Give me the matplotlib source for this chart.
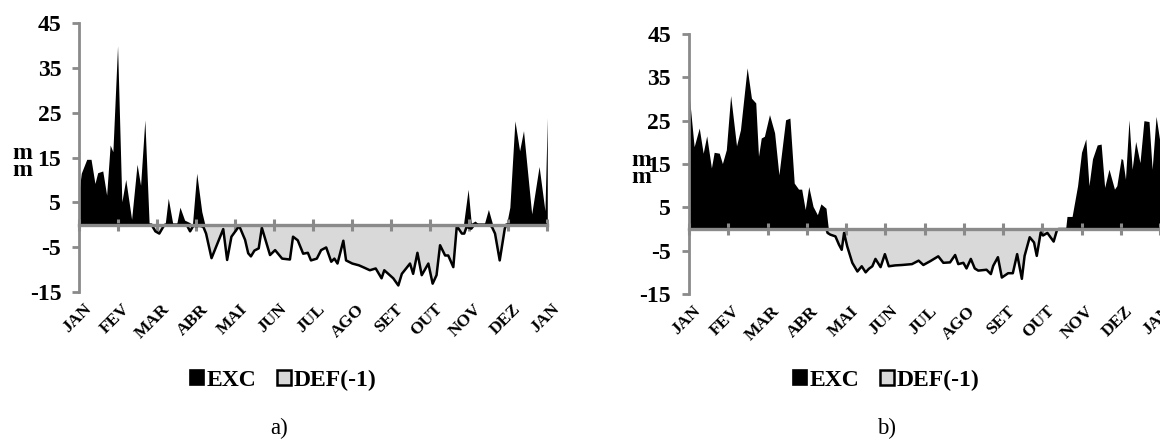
import matplotlib
matplotlib.use('Agg')
import matplotlib.pyplot as plt
import matplotlib.transforms as mtransforms
from matplotlib.patches import Patch

plt.rcParams['font.family'] = ['Liberation Serif', 'DejaVu Serif']

months = ['JAN', 'FEV', 'MAR', 'ABR', 'MAI', 'JUN', 'JUL',
          'AGO', 'SET', 'OUT', 'NOV', 'DEZ', 'JAN']
yticks = [-15, -5, 5, 15, 25, 35, 45]

# x is in months since the first JAN (0 .. 12)
# a) excess
exc_a_x = [0, 0.05, 0.19, 0.3, 0.4, 0.47, 0.6, 0.7, 0.79, 0.86, 0.98, 1.09,
           1.19, 1.34, 1.48, 1.57, 1.68, 1.79, 1.85, 2.2, 2.28, 2.4, 2.5,
           2.58, 2.7, 2.82, 2.9, 3.01, 3.14, 3.22, 9.85, 9.97, 10.05, 10.15,
           10.25, 10.38, 10.49, 10.6, 10.96, 11.04, 11.17, 11.29, 11.39,
           11.6, 11.79, 11.94, 12.0]
exc_a = [8, 11.5, 14.6, 14.6, 9.2, 11.6, 12, 6.6, 17.8, 16.3, 40, 5.1,
         10.1, 1.2, 13.5, 8.8, 23.4, 0.2, 0, 0, 5.9, 0, 0.3,
         3.9, 1, 0.5, 0, 11.5, 2.9, 0, 0, 7.9, 0.3, 0.8,
         0, 0, 3.4, 0, 0.3, 3.9, 23.2, 16.5, 21,
         2.4, 13, 3.1, 23.9]

# a) deficit (x -1)
def_a_x = [0, 1.85, 1.95, 2.05, 2.15, 2.2, 2.75, 2.84, 2.92, 3.1, 3.18, 3.25,
           3.39, 3.69, 3.79, 3.9, 4.1, 4.25, 4.33, 4.4, 4.49, 4.6, 4.68,
           4.89, 5.02, 5.2, 5.4, 5.48, 5.6, 5.74, 5.86, 5.94, 6.09, 6.2,
           6.33, 6.46, 6.54, 6.62, 6.77, 6.84, 7.0, 7.17, 7.3, 7.45, 7.6,
           7.75, 7.82, 8.05, 8.18, 8.27, 8.48, 8.56, 8.67, 8.78, 8.95, 9.06,
           9.16, 9.25, 9.38, 9.46, 9.59, 9.68, 9.81, 9.87, 9.93, 10.05,
           10.13, 10.5, 10.58, 10.66, 10.78, 10.91, 10.95, 12.0]
def_a = [0, 0, -1.5, -2, -0.5, 0, 0, -1.5, -0.3, -0.3, -0.5, -2,
         -7.5, -1, -7.9, -2.7, -0.3, -3.4, -6.4, -7.1, -5.8, -5.3, -0.7,
         -6.8, -5.7, -7.6, -7.8, -2.7, -3.5, -6.5, -6.3, -8, -7.6, -5.7,
         -5.1, -8.3, -7.6, -8.7, -3.6, -8, -8.7, -9.1, -9.6, -10.2, -9.8,
         -12, -10.2, -12, -13.6, -11, -8.7, -11, -6.3, -11.3, -8.7, -13.2,
         -11.3, -4.6, -6.9, -6.9, -9.5, -0.3, -2, -2, -0.5, -0.9,
         0, 0, -0.5, -2, -8, -0.9, 0, 0]

# b) excess
exc_b_x = [0, 0.04, 0.13, 0.26, 0.36, 0.45, 0.57, 0.64, 0.77, 0.85, 0.95,
           1.06, 1.21, 1.31, 1.48, 1.59, 1.7, 1.77, 1.84, 1.92, 2.05, 2.18,
           2.29, 2.46, 2.57, 2.68, 2.79, 2.87, 2.96, 3.05, 3.16, 3.27, 3.36,
           3.49, 3.55, 9.58, 9.6, 9.63, 9.76, 9.9, 10.0, 10.11, 10.19, 10.28,
           10.4, 10.5, 10.59, 10.7, 10.84, 10.9, 11.01, 11.05, 11.12, 11.21,
           11.29, 11.38, 11.49, 11.59, 11.72, 11.8, 11.9, 12.0]
exc_b = [31.2, 27.5, 19, 23.3, 17.5, 21.5, 14.1, 17.7, 17.5, 15.1, 18.3,
         30.8, 19.2, 22.9, 37.2, 30.2, 29.1, 16.8, 21, 21.4, 26.4, 22.2,
         12.5, 25.2, 25.6, 10.6, 9.2, 9.2, 4.5, 9.8, 5.2, 3.3, 5.8,
         4.8, 0, 0, 0.4, 2.9, 2.9, 10, 17.7, 20.8, 10, 16.2,
         19.4, 19.6, 9.6, 13.8, 9.2, 10, 16.3, 16, 11.5, 25.2,
         13.8, 20.2, 15.3, 25, 24.8, 13.8, 26, 20]

# b) deficit (x -1)
def_b_x = [0, 3.5, 3.53, 3.6, 3.73, 3.82, 3.89, 3.95, 4.03, 4.16, 4.29, 4.4,
           4.5, 4.58, 4.67, 4.75, 4.88, 4.99, 5.09, 5.25, 5.43, 5.68, 5.85,
           5.97, 6.15, 6.35, 6.48, 6.65, 6.78, 6.86, 6.99, 7.07, 7.18, 7.28,
           7.37, 7.58, 7.69, 7.75, 7.87, 7.97, 8.13, 8.25, 8.36, 8.48, 8.55,
           8.68, 8.79, 8.86, 8.96, 9.02, 9.13, 9.29, 9.37, 9.41, 12.0]
def_b = [0, 0, -0.9, -1.3, -1.7, -3.6, -4.8, -0.9, -4, -7.8, -9.8, -8.6,
         -10, -9.2, -8.6, -6.9, -8.8, -5.8, -8.6, -8.4, -8.3, -8.1, -7.3,
         -8.3, -7.4, -6.3, -7.8, -7.7, -6, -8.1, -7.8, -9.1, -6.9, -9.1,
         -9.6, -9.4, -10.4, -8.5, -6.5, -11.2, -10.2, -10.2, -5.8, -11.5, -6.2,
         -1.9, -3.1, -6.2, -0.8, -1.5, -0.9, -2.9, -0.4, 0, 0]

GRAY = '#8a8a8a'
FONT = 'Liberation Serif'

fig = plt.figure(figsize=(11.6, 4.41), dpi=100)
ax_a = fig.add_axes([0.0684, 0.3385, 0.4034, 0.6086])
ax_b = fig.add_axes([0.594, 0.3333, 0.4060, 0.5896])


def draw_panel(ax, ex_x, ex, df_x, df):
    ax.fill_between(ex_x, 0, ex, color='black', lw=0, zorder=1)
    ax.fill_between(df_x, 0, df, color='#d9d9d9', lw=0, zorder=1)
    ax.plot(df_x, df, color='black', lw=1.8, zorder=2)

    ax.set_xlim(0, 12)
    ax.set_ylim(-15, 45)
    for s in ['top', 'right']:
        ax.spines[s].set_visible(False)
    ax.spines['left'].set_color(GRAY)
    ax.spines['left'].set_linewidth(2)
    ax.spines['bottom'].set_position(('data', 0))
    ax.spines['bottom'].set_color(GRAY)
    ax.spines['bottom'].set_linewidth(2.4)
    ax.spines['bottom'].set_zorder(3)

    ax.set_yticks(yticks)
    ax.set_yticklabels([str(t) for t in yticks], fontsize=17,
                       fontweight='bold', family=FONT)
    ax.tick_params(axis='y', direction='out', length=5, width=2,
                   color=GRAY, pad=8)
    ax.set_xticks(range(13))
    ax.set_xticklabels([])
    ax.tick_params(axis='x', direction='inout', length=9, width=2.2,
                   color=GRAY)

    trans = mtransforms.blended_transform_factory(ax.transData, ax.transAxes)
    for i, lab in enumerate(months):
        ax.text(i + 0.1, -0.035, lab, transform=trans, rotation=45,
                ha='right', va='top', rotation_mode='anchor',
                fontsize=12.5, fontweight='bold', family=FONT)


draw_panel(ax_a, exc_a_x, exc_a, def_a_x, def_a)
draw_panel(ax_b, exc_b_x, exc_b, def_b_x, def_b)

# y label "m m" stacked
fig.text(22.5 / 1160, 1 - 162 / 441, 'm\nm', ha='center', va='center',
         fontsize=17, fontweight='bold', family=FONT, linespacing=0.7)
fig.text(641 / 1160, 1 - 169 / 441, 'm\nm', ha='center', va='center',
         fontsize=17, fontweight='bold', family=FONT, linespacing=0.7)

handles = [Patch(facecolor='black', edgecolor='black', lw=1.2, label='EXC'),
           Patch(facecolor='#d9d9d9', edgecolor='black', lw=1.8, label='DEF(-1)')]
for ax, cx in [(ax_a, 283 / 1160), (ax_b, 886 / 1160)]:
    ax.legend(handles=handles, loc='center', bbox_to_anchor=(cx, 1 - 380 / 441),
              bbox_transform=fig.transFigure, ncol=2, frameon=False,
              handlelength=0.6, handleheight=0.6, handletextpad=0.1,
              columnspacing=0.9,
              prop={'family': FONT, 'weight': 'bold', 'size': 17})

fig.text(279 / 1160, 1 - 428 / 441, 'a)', ha='center', va='center',
         fontsize=16.5, family=FONT)
fig.text(887 / 1160, 1 - 428 / 441, 'b)', ha='center', va='center',
         fontsize=16.5, family=FONT)

fig.savefig('out.png', dpi=100)
